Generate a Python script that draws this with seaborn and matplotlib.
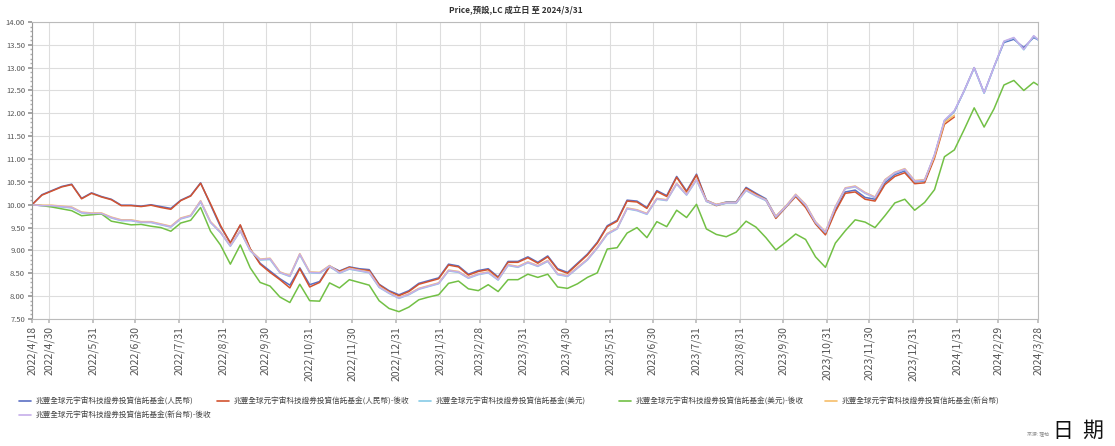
import pandas as pd
import matplotlib.pyplot as plt
import matplotlib.ticker as mticker
import seaborn as sns

# weekly NAV readings, 2022/4/18 .. 2024/3/25, plus the last day 2024/3/28
dates = pd.date_range("2022-04-18", periods=102, freq="7D").append(pd.DatetimeIndex(["2024-03-28"]))

cny = [10.00, 10.22, 10.31, 10.40, 10.45, 10.14, 10.26, 10.18, 10.12, 9.99,
       9.99, 9.97, 10.00, 9.96, 9.92, 10.10, 10.20, 10.48, 10.00, 9.52,
       9.17, 9.55, 9.03, 8.72, 8.55, 8.38, 8.24, 8.62, 8.25, 8.32,
       8.66, 8.55, 8.64, 8.60, 8.58, 8.26, 8.12, 8.03, 8.12, 8.28,
       8.34, 8.40, 8.70, 8.66, 8.48, 8.56, 8.60, 8.42, 8.76, 8.76,
       8.86, 8.74, 8.88, 8.60, 8.52, 8.72, 8.92, 9.18, 9.54, 9.66,
       10.10, 10.08, 9.94, 10.31, 10.20, 10.62, 10.30, 10.67, 10.10, 10.00,
       10.06, 10.06, 10.38, 10.25, 10.13, 9.74, 9.96, 10.20, 9.98, 9.61,
       9.38, 9.88, 10.28, 10.32, 10.16, 10.12, 10.48, 10.66, 10.74, 10.50,
       10.52, 11.08, 11.83, 12.04, 12.50, 13.00, 12.45, 13.02, 13.55, 13.62,
       13.44, 13.66, 13.61]

cny_back = [10.00, 10.21, 10.30, 10.39, 10.44, 10.13, 10.25, 10.17, 10.11, 9.98,
            9.98, 9.96, 9.99, 9.94, 9.90, 10.09, 10.19, 10.47, 10.02, 9.55,
            9.16, 9.56, 9.04, 8.70, 8.52, 8.36, 8.18, 8.60, 8.20, 8.30,
            8.64, 8.54, 8.63, 8.58, 8.56, 8.25, 8.10, 8.01, 8.10, 8.26,
            8.32, 8.38, 8.68, 8.64, 8.46, 8.54, 8.58, 8.40, 8.74, 8.74,
            8.84, 8.72, 8.86, 8.58, 8.50, 8.70, 8.90, 9.16, 9.52, 9.64,
            10.08, 10.06, 9.92, 10.29, 10.18, 10.60, 10.28, 10.65, 10.08, 9.98,
            10.04, 10.04, 10.36, 10.23, 10.10, 9.70, 9.94, 10.18, 9.94, 9.58,
            9.34, 9.85, 10.25, 10.28, 10.12, 10.08, 10.44, 10.62, 10.70, 10.46,
            10.48, 11.02, 11.76, 11.92]

usd = [10.00, 9.98, 9.97, 9.95, 9.93, 9.82, 9.80, 9.80, 9.71, 9.65,
       9.65, 9.61, 9.61, 9.56, 9.51, 9.69, 9.75, 10.06, 9.61, 9.39,
       9.09, 9.42, 8.99, 8.79, 8.80, 8.51, 8.43, 8.90, 8.51, 8.50,
       8.65, 8.50, 8.59, 8.55, 8.51, 8.19, 8.06, 7.95, 8.03, 8.15,
       8.21, 8.27, 8.55, 8.52, 8.39, 8.47, 8.51, 8.35, 8.67, 8.63,
       8.73, 8.65, 8.76, 8.47, 8.43, 8.61, 8.79, 9.05, 9.35, 9.47,
       9.91, 9.87, 9.79, 10.12, 10.09, 10.45, 10.21, 10.54, 10.07, 9.99,
       10.03, 10.03, 10.31, 10.19, 10.09, 9.73, 9.95, 10.21, 9.99, 9.61,
       9.39, 9.94, 10.35, 10.39, 10.25, 10.15, 10.53, 10.69, 10.77, 10.51,
       10.53, 11.09, 11.84, 12.05, 12.49, 12.99, 12.44, 13.01, 13.57, 13.65,
       13.39, 13.69, 13.61]

usd_back = [10.00, 9.98, 9.95, 9.91, 9.87, 9.76, 9.78, 9.80, 9.64, 9.60,
            9.56, 9.57, 9.53, 9.50, 9.42, 9.60, 9.66, 9.94, 9.42, 9.12,
            8.70, 9.12, 8.62, 8.30, 8.22, 7.98, 7.86, 8.26, 7.90, 7.89,
            8.29, 8.18, 8.36, 8.30, 8.24, 7.90, 7.73, 7.66, 7.76, 7.92,
            7.98, 8.03, 8.28, 8.33, 8.16, 8.12, 8.25, 8.10, 8.36, 8.36,
            8.48, 8.41, 8.48, 8.20, 8.17, 8.27, 8.41, 8.51, 9.03, 9.06,
            9.38, 9.50, 9.28, 9.63, 9.52, 9.88, 9.72, 10.01, 9.47, 9.35,
            9.30, 9.40, 9.64, 9.51, 9.28, 9.01, 9.18, 9.36, 9.24, 8.86,
            8.63, 9.16, 9.43, 9.67, 9.62, 9.50, 9.76, 10.04, 10.12, 9.88,
            10.05, 10.33, 11.05, 11.20, 11.65, 12.12, 11.70, 12.10, 12.62, 12.72,
            12.50, 12.68, 12.62]

twd = [10.00, 9.99, 9.99, 9.97, 9.95, 9.84, 9.82, 9.82, 9.73, 9.67,
       9.67, 9.63, 9.63, 9.58, 9.53, 9.71, 9.77, 10.09, 9.63, 9.41,
       9.11, 9.44, 9.01, 8.81, 8.83, 8.53, 8.45, 8.93, 8.53, 8.52,
       8.67, 8.52, 8.61, 8.57, 8.53, 8.21, 8.08, 7.97, 8.05, 8.17,
       8.23, 8.29, 8.57, 8.54, 8.41, 8.49, 8.53, 8.37, 8.69, 8.65,
       8.75, 8.67, 8.78, 8.49, 8.45, 8.63, 8.81, 9.07, 9.37, 9.49,
       9.93, 9.89, 9.81, 10.14, 10.11, 10.47, 10.23, 10.56, 10.09, 10.01,
       10.05, 10.05, 10.33, 10.21, 10.11, 9.75, 9.97, 10.23, 10.01, 9.63,
       9.41, 9.96, 10.37, 10.41, 10.27, 10.17, 10.55, 10.71, 10.79, 10.53,
       10.55, 11.06, 11.80, 11.96]

twd_back = [10.00, 9.98, 9.98, 9.96, 9.94, 9.83, 9.81, 9.81, 9.72, 9.66,
            9.66, 9.62, 9.62, 9.57, 9.52, 9.70, 9.76, 10.08, 9.62, 9.40,
            9.10, 9.43, 9.00, 8.80, 8.82, 8.52, 8.44, 8.92, 8.52, 8.51,
            8.66, 8.51, 8.60, 8.56, 8.52, 8.20, 8.07, 7.96, 8.04, 8.16,
            8.22, 8.28, 8.56, 8.53, 8.40, 8.48, 8.52, 8.36, 8.68, 8.64,
            8.74, 8.66, 8.77, 8.48, 8.44, 8.62, 8.80, 9.06, 9.36, 9.48,
            9.92, 9.88, 9.80, 10.13, 10.10, 10.46, 10.22, 10.55, 10.08, 10.00,
            10.04, 10.04, 10.32, 10.20, 10.10, 9.74, 9.96, 10.22, 10.00, 9.62,
            9.40, 9.95, 10.36, 10.40, 10.26, 10.16, 10.54, 10.70, 10.78, 10.52,
            10.54, 11.10, 11.85, 12.06, 12.50, 13.00, 12.45, 13.02, 13.58, 13.66,
            13.40, 13.70, 13.62]

fund = "兆豐全球元宇宙科技證券投資信託基金"
labels = [fund + "(人民幣)", fund + "(人民幣)-後收", fund + "(美元)",
          fund + "(美元)-後收", fund + "(新台幣)", fund + "(新台幣)-後收"]
colors = ["#5b6fc4", "#d2532f", "#86cbe6", "#72c045", "#f6be6a", "#c6aeea"]

tick_dates = ["2022-04-18", "2022-04-30", "2022-05-31", "2022-06-30", "2022-07-31",
              "2022-08-31", "2022-09-30", "2022-10-31", "2022-11-30", "2022-12-31",
              "2023-01-31", "2023-02-28", "2023-03-31", "2023-04-30", "2023-05-31",
              "2023-06-30", "2023-07-31", "2023-08-31", "2023-09-30", "2023-10-31",
              "2023-11-30", "2023-12-31", "2024-01-31", "2024-02-29", "2024-03-28"]

series = [cny, cny_back, usd, usd_back, twd, twd_back]
frames = []
for lab, vals in zip(labels, series):
    frames.append(pd.DataFrame({"date": dates[:len(vals)], "nav": vals, "fund": lab}))
df = pd.concat(frames, ignore_index=True)

sns.set_theme(style="whitegrid")
plt.rcParams["font.family"] = ["Noto Sans CJK TC", "DejaVu Sans"]

fig = plt.figure(figsize=(11.15, 4.46), dpi=100)
ax = fig.add_axes([0.0287, 0.2848, 0.9022, 0.666])

sns.lineplot(data=df, x="date", y="nav", hue="fund", hue_order=labels,
             palette=colors, linewidth=1.1, legend=False, ax=ax)

ax.set_xlim(pd.Timestamp("2022-04-18"), pd.Timestamp("2024-03-28"))
ax.set_ylim(7.5, 14.0)
ax.yaxis.set_major_locator(mticker.MultipleLocator(0.5))
ax.yaxis.set_minor_locator(mticker.MultipleLocator(0.1))
ax.yaxis.set_major_formatter(mticker.FormatStrFormatter("%.2f"))
ticks = pd.to_datetime(tick_dates)
ax.set_xticks(ticks)
ax.set_xticklabels([f"{d.year}/{d.month}/{d.day}" for d in ticks], rotation=90,
                   fontsize=7.5, color="#555555")
ax.tick_params(axis="y", which="major", labelsize=5.5, labelcolor="#555555",
               length=3, color="#999999", left=True, pad=2)
ax.tick_params(axis="y", which="minor", length=1.5, color="#aaaaaa", left=True)
ax.tick_params(axis="x", length=3, color="#bbbbbb", bottom=True, pad=2)
ax.set_xlabel("")
ax.set_ylabel("")
ax.grid(True, color="#dddddd", linewidth=0.8)
for s in ax.spines.values():
    s.set_color("#bbbbbb")
    s.set_linewidth(0.8)
ax.spines["left"].set_color("#999999")

fig.text(0.463, 0.977, "Price,預設,LC 成立日 至 2024/3/31", ha="center", va="center",
         fontsize=6, fontweight="bold", color="#333333")

# legend laid out in fixed-width columns, as in the source
legend_pos = [(0.012, 0.099), (0.190, 0.099), (0.371, 0.099),
              (0.550, 0.099), (0.735, 0.099), (0.012, 0.069)]
for lab, col, pos in zip(labels, colors, legend_pos):
    h = plt.Line2D([], [], color=col, linewidth=1.2)
    fig.legend(handles=[h], labels=[lab], loc="center left", bbox_to_anchor=pos,
               frameon=False, fontsize=5.5, handlelength=1.6, handletextpad=0.6,
               borderpad=0.2, labelcolor="#444444")

fig.text(0.931, 0.027, "來源: 理柏", ha="center", va="center", fontsize=3.5, color="#888888")
fig.text(0.967, 0.035, "日  期", ha="center", va="center", fontsize=15, color="#111111")

fig.savefig("out.png", dpi=100)
